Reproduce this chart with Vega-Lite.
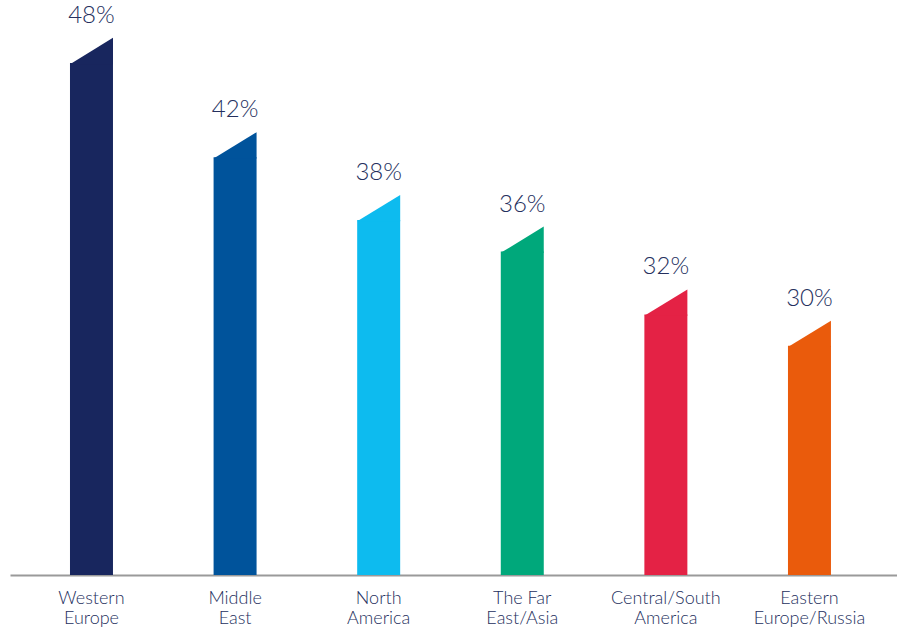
{
  "$schema": "https://vega.github.io/schema/vega-lite/v6.json",
  "autosize": "none",
  "width": 887,
  "height": 575,
  "padding": {"left": 10, "top": 0, "right": 0, "bottom": 55},
  "background": "white",
  "config": {"view": {"stroke": null}},
  "data": {
    "values": [
      {"region": "Western Europe", "pct": 0.48},
      {"region": "Middle East", "pct": 0.42},
      {"region": "North America", "pct": 0.38},
      {"region": "The Far East/Asia", "pct": 0.36},
      {"region": "Central/South America", "pct": 0.32},
      {"region": "Eastern Europe/Russia", "pct": 0.30}
    ]
  },
  "encoding": {
    "x": {
      "field": "region",
      "type": "nominal",
      "sort": null,
      "scale": {"paddingInner": 0.7006, "paddingOuter": 0.4388, "align": 0.476},
      "axis": {
        "title": null,
        "labelAngle": 0,
        "ticks": false,
        "domainColor": "#9a9a9a",
        "domainWidth": 2,
        "labelFont": "Lato",
        "labelFontSize": 18,
        "labelFontWeight": 300,
        "labelColor": "#25305e",
        "labelPadding": 14,
        "labelLineHeight": 20,
        "labelBaseline": "top",
        "labelExpr": "datum.label == 'The Far East/Asia' ? ['The Far', 'East/Asia'] : split(datum.label, ' ')"
      }
    },
    "y": {
      "field": "pct",
      "type": "quantitative",
      "scale": {"domain": [0.1542, 0.52], "zero": false, "nice": false, "clamp": true},
      "axis": null
    },
    "color": {
      "field": "region",
      "type": "nominal",
      "sort": null,
      "scale": {
        "domain": ["Western Europe", "Middle East", "North America", "The Far East/Asia", "Central/South America", "Eastern Europe/Russia"],
        "range": ["#18265e", "#00539b", "#0dbbef", "#00a87b", "#e42245", "#ea5b0c"]
      },
      "legend": null
    }
  },
  "layer": [
    {"mark": {"type": "bar"}},
    {
      "mark": {
        "type": "point",
        "shape": "M-1,0.06 L1,0.06 L1,-1.163 Z",
        "size": 1849,
        "filled": true,
        "opacity": 1,
        "strokeWidth": 0
      }
    },
    {
      "mark": {
        "type": "text",
        "dy": -40,
        "baseline": "alphabetic",
        "font": "Lato",
        "fontSize": 24,
        "fontWeight": 300,
        "color": "#25305e"
      },
      "encoding": {
        "text": {"field": "pct", "type": "quantitative", "format": ".0%"},
        "color": {"value": "#25305e"},
        "y": {"field": "pct", "type": "quantitative"}
      }
    }
  ]
}
